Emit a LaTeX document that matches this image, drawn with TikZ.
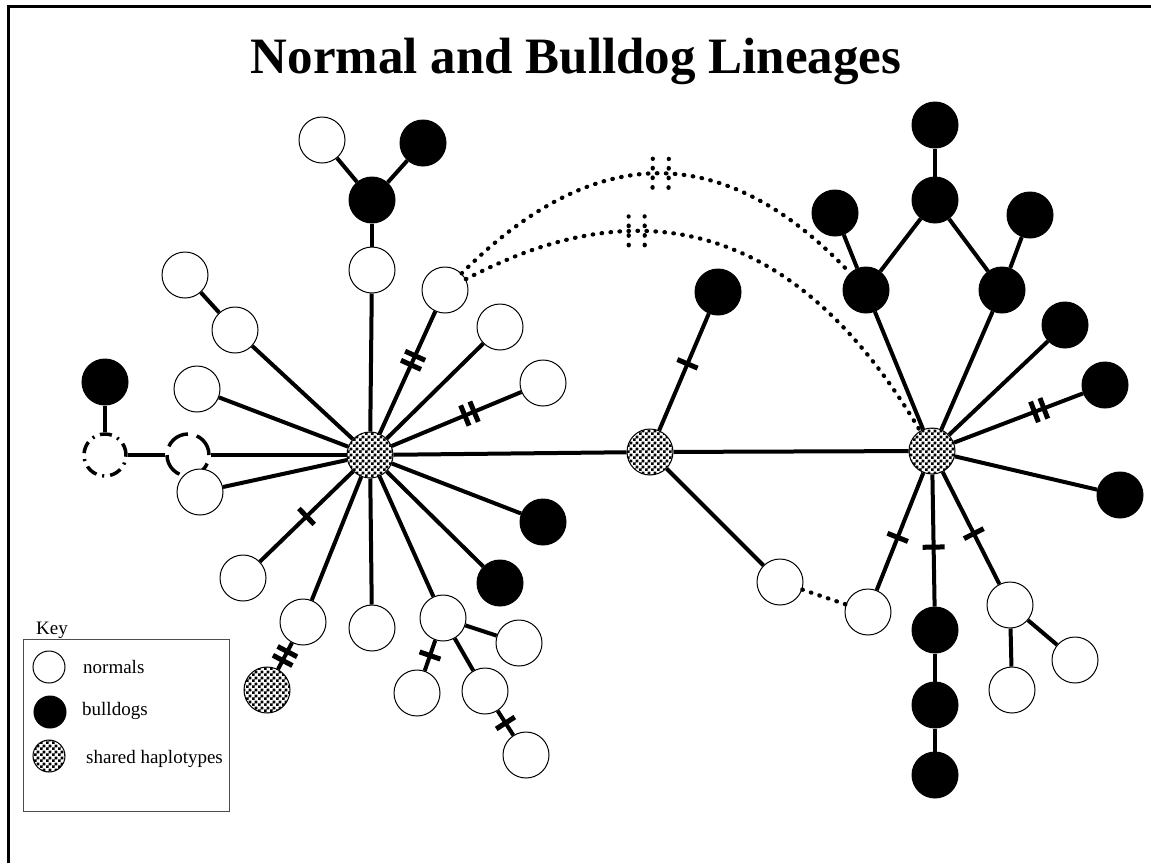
\documentclass[tikz,border=0pt]{standalone}
\usepackage{fontspec}
\setmainfont{Liberation Serif}
\usetikzlibrary{patterns,decorations.markings}
\pgfdeclarepatternformonly{hapchecks}{\pgfqpoint{0pt}{0pt}}{\pgfqpoint{5.6pt}{5.6pt}}{\pgfqpoint{5.6pt}{5.6pt}}{%
  \pgfpathrectangle{\pgfqpoint{0pt}{0pt}}{\pgfqpoint{2.8pt}{2.8pt}}%
  \pgfpathrectangle{\pgfqpoint{2.8pt}{2.8pt}}{\pgfqpoint{2.8pt}{2.8pt}}%
  \pgfusepath{fill}}
\begin{document}
\begin{tikzpicture}[yscale=-1
            ,pnormal/.style={circle,draw=black,fill=white,line width=1.0pt,minimum size=46pt,inner sep=0pt}
            ,pbulldog/.style={circle,draw=black,fill=black,line width=1.0pt,minimum size=46pt,inner sep=0pt}
            ,pshared/.style={circle,draw=black,pattern=hapchecks,line width=1.0pt,minimum size=46pt,inner sep=0pt}
            ,pmissing/.style={circle,draw=black,line width=3.5pt,minimum size=42pt,inner sep=0pt}
            ,pkey/.style={minimum size=32pt}
            ,plink/.style={draw=black,line width=4.0pt}
            ,pdots/.style={draw=black,line width=4.2pt,line cap=round,dash pattern=on 0.6pt off 8.4pt}
            ,pbar/.style={postaction={decorate,decoration={markings,mark=at position #1 with {\draw[line width=5pt,solid] (0pt,-11pt) -- (0pt,11pt);}}}}
            ,pbartwo/.style={postaction={decorate,decoration={markings,mark=at position #1 with {\draw[line width=5pt,solid] (-5pt,-11pt) -- (-5pt,11pt) (5pt,-11pt) -- (5pt,11pt);}}}}
            ,pdotbar/.style={postaction={decorate,decoration={markings,mark=at position #1 with {\draw[pdots,dash pattern=on 0.6pt off 9.0pt] (-8pt,-14.5pt) -- (-8pt,14.5pt) (8pt,-14.5pt) -- (8pt,14.5pt);}}}}
            ,ptext/.style={font=\fontsize{19}{22}\selectfont}
        ]
        \useasboundingbox (0pt,0pt) rectangle (1151pt,863pt);
        \draw[line width=3.0pt] (8pt,863pt) -- (8pt,6pt) -- (1151pt,6pt);
        \node (title) at (576pt,61pt) {\fontsize{51}{58}\selectfont\bfseries Normal and Bulldog Lineages};
        \node[pshared] (hubl) at (370pt,455pt) {};
        \node[pshared] (hubm) at (650pt,452pt) {};
        \node[pshared] (hubr) at (932pt,451pt) {};
        \node[pnormal] (nt1) at (372pt,270pt) {};
        \node[pbulldog] (bt1) at (372pt,200pt) {};
        \node[pnormal] (nt2) at (322pt,140pt) {};
        \node[pbulldog] (bt2) at (423pt,143pt) {};
        \node[pnormal] (na) at (445pt,290pt) {};
        \node[pnormal] (nb) at (500pt,327pt) {};
        \node[pnormal] (nc) at (543pt,383pt) {};
        \node[pnormal] (nd) at (235pt,330pt) {};
        \node[pnormal] (ne) at (185pt,275pt) {};
        \node[pnormal] (nf) at (197pt,389pt) {};
        \node[pbulldog] (bl) at (105pt,382pt) {};
        \node[pmissing,dash pattern=on 12pt off 6pt on 2pt off 6pt] (ma) at (105pt,455pt) {};
        \node[pmissing,dash pattern=on 24pt off 9pt] (mb) at (188pt,455pt) {};
        \node[pnormal] (ng) at (200pt,492pt) {};
        \node[pnormal] (nh) at (243pt,578pt) {};
        \node[pnormal] (ni) at (303pt,622pt) {};
        \node[pshared] (sa) at (267pt,690pt) {};
        \node[pnormal] (nj) at (372pt,628pt) {};
        \node[pnormal] (nk) at (443pt,618pt) {};
        \node[pnormal] (nl) at (519pt,643pt) {};
        \node[pnormal] (nm) at (417pt,693pt) {};
        \node[pnormal] (nn) at (485pt,691pt) {};
        \node[pnormal] (no) at (526pt,755pt) {};
        \node[pbulldog] (ba) at (500pt,583pt) {};
        \node[pbulldog] (bb) at (543pt,522pt) {};
        \node[pbulldog] (bc) at (718pt,292pt) {};
        \node[pnormal] (np) at (780pt,582pt) {};
        \node[pbulldog] (bd) at (866pt,290pt) {};
        \node[pbulldog] (be) at (835pt,213pt) {};
        \node[pbulldog] (bf) at (935pt,200pt) {};
        \node[pbulldog] (bg) at (935pt,125pt) {};
        \node[pbulldog] (bh) at (1002pt,290pt) {};
        \node[pbulldog] (bi) at (1030pt,215pt) {};
        \node[pbulldog] (bj) at (1065pt,325pt) {};
        \node[pbulldog] (bk) at (1105pt,385pt) {};
        \node[pbulldog] (bm) at (1120pt,495pt) {};
        \node[pnormal] (nq) at (868pt,612pt) {};
        \node[pbulldog] (bn) at (935pt,630pt) {};
        \node[pbulldog] (bo) at (935pt,705pt) {};
        \node[pbulldog] (bp) at (935pt,775pt) {};
        \node[pnormal] (nr) at (1010pt,605pt) {};
        \node[pnormal] (ns) at (1012pt,690pt) {};
        \node[pnormal] (nu) at (1075pt,660pt) {};
        \draw[plink] (hubl) -- (nt1);
        \draw[plink] (nt1) -- (bt1);
        \draw[plink] (bt1) -- (nt2);
        \draw[plink] (bt1) -- (bt2);
        \draw[plink,pbartwo=0.6] (hubl) -- (na);
        \draw[plink] (hubl) -- (nb);
        \draw[plink,pbartwo=0.6] (hubl) -- (nc);
        \draw[plink] (hubl) -- (nd);
        \draw[plink] (nd) -- (ne);
        \draw[plink] (hubl) -- (nf);
        \draw[plink] (hubl) -- (mb);
        \draw[plink] (mb) -- (ma);
        \draw[plink] (ma) -- (bl);
        \draw[plink] (hubl) -- (ng);
        \draw[plink,pbar=0.5] (hubl) -- (nh);
        \draw[plink] (hubl) -- (ni);
        \draw[plink,pbartwo=0.5] (ni) -- (sa);
        \draw[plink] (hubl) -- (nj);
        \draw[plink] (hubl) -- (nk);
        \draw[plink] (nk) -- (nl);
        \draw[plink,pbar=0.5] (nk) -- (nm);
        \draw[plink] (nk) -- (nn);
        \draw[plink,pbar=0.5] (nn) -- (no);
        \draw[plink] (hubl) -- (ba);
        \draw[plink] (hubl) -- (bb);
        \draw[plink] (hubl) -- (hubm);
        \draw[plink,pbar=0.57] (hubm) -- (bc);
        \draw[plink] (hubm) -- (np);
        \draw[plink] (hubm) -- (hubr);
        \draw[pdots] (np) -- (nq);
        \draw[plink] (hubr) -- (bd);
        \draw[plink] (bd) -- (be);
        \draw[plink] (bd) -- (bf);
        \draw[plink] (bf) -- (bg);
        \draw[plink] (hubr) -- (bh);
        \draw[plink] (bh) -- (bf);
        \draw[plink] (bh) -- (bi);
        \draw[plink] (hubr) -- (bj);
        \draw[plink,pbartwo=0.66] (hubr) -- (bk);
        \draw[plink] (hubr) -- (bm);
        \draw[plink,pbar=0.55] (hubr) -- (nq);
        \draw[plink,pbar=0.55] (hubr) -- (bn);
        \draw[plink] (bn) -- (bo);
        \draw[plink] (bo) -- (bp);
        \draw[plink,pbar=0.55] (hubr) -- (nr);
        \draw[plink] (nr) -- (ns);
        \draw[plink] (nr) -- (nu);
        \draw[pdots,pdotbar=0.51] (na) .. controls (590pt,145pt) and (720pt,135pt) .. (bd);
        \draw[pdots,pdotbar=0.33] (na) .. controls (570pt,225pt) and (760pt,160pt) .. (hubr);
        \node[ptext] (keylabel) at (52pt,630pt) {Key};
        \draw[draw=black!70,line width=1.0pt] (23pt,639pt) rectangle (229pt,811pt);
        \node[pnormal,pkey] (keyn) at (49pt,667pt) {};
        \node[pbulldog,pkey] (keyb) at (50pt,712pt) {};
        \node[pshared,pkey] (keys) at (49pt,756pt) {};
        \node[ptext,anchor=west,inner sep=0pt] (keyntext) at (83pt,667pt) {normals};
        \node[ptext,anchor=west,inner sep=0pt] (keybtext) at (82pt,711pt) {bulldogs};
        \node[ptext,anchor=west,inner sep=0pt] (keystext) at (86pt,759pt) {shared haplotypes};
    \end{tikzpicture}
\end{document}
